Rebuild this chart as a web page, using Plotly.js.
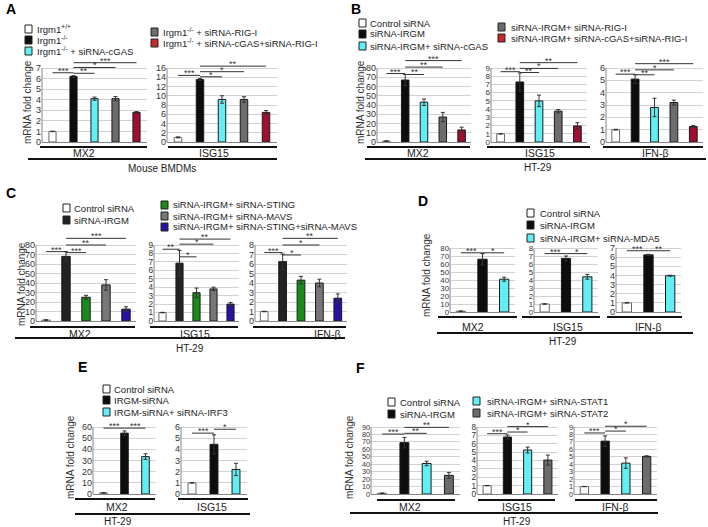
<!DOCTYPE html>
<html><head><meta charset="utf-8">
<script src="https://cdn.plot.ly/plotly-3.0.1.min.js"></script>
<style>html,body{margin:0;padding:0;background:#fff}#chart{width:708px;height:527px}</style>
</head><body><div id="chart"></div>
<script>
// ================= DATA =================
const catsA = ['Irgm1<sup>+/+</sup>','Irgm1<sup>-/-</sup>','Irgm1<sup>-/-</sup> + siRNA-cGAS','Irgm1<sup>-/-</sup> + siRNA-RIG-I','Irgm1<sup>-/-</sup> + siRNA-cGAS+siRNA-RIG-I'];
const catsB = ['Control siRNA','siRNA-IRGM','siRNA-IRGM+ siRNA-cGAS','siRNA-IRGM+ siRNA-RIG-I','siRNA-IRGM+ siRNA-cGAS+siRNA-RIG-I'];
const catsC = ['Control siRNA','siRNA-IRGM','siRNA-IRGM+ siRNA-STING','siRNA-IRGM+ siRNA-MAVS','siRNA-IRGM+ siRNA-STING+siRNA-MAVS'];
const catsD = ['Control siRNA','siRNA-IRGM','siRNA-IRGM+ siRNA-MDA5'];
const catsE = ['Control siRNA','IRGM-siRNA','IRGM-siRNA+ siRNA-IRF3'];
const catsF = ['Control siRNA','siRNA-IRGM','siRNA-IRGM+ siRNA-STAT1','siRNA-IRGM+ siRNA-STAT2'];

const genesA = ['MX2','ISG15'];
const genes3 = ['MX2','ISG15','IFN-β'];
const cellA = 'Mouse BMDMs';
const cellHT = 'HT-29';

const A_MX2 = [1, 6.2, 4.1, 4.1, 2.8];        const A_MX2_err = [0.02, 0.08, 0.15, 0.2, 0.08];
const A_ISG15 = [1, 13.5, 9.2, 9.2, 6.4];     const A_ISG15_err = [0.1, 0.2, 0.8, 0.6, 0.4];
const B_MX2 = [1, 67, 43, 27, 13];            const B_MX2_err = [0.3, 6, 3.5, 5, 3];
const B_ISG15 = [1, 7.3, 5.0, 3.75, 1.95];    const B_ISG15_err = [0.03, 1.1, 0.7, 0.2, 0.4];
const B_IFNB = [1, 5.1, 2.8, 3.2, 1.25];      const B_IFNB_err = [0.03, 0.35, 0.75, 0.2, 0.08];
const C_MX2 = [1, 68, 25, 38, 12.5];          const C_MX2_err = [0.3, 5, 2, 5.5, 2.5];
const C_ISG15 = [1, 6.85, 3.35, 3.8, 2.0];    const C_ISG15_err = [0.03, 1.5, 0.55, 0.2, 0.2];
const C_IFNB = [1, 6.25, 4.3, 4.0, 2.4];      const C_IFNB_err = [0.03, 0.8, 0.4, 0.4, 0.45];
const D_MX2 = [1, 66, 41];                    const D_MX2_err = [0.3, 7, 2.5];
const D_ISG15 = [1, 6.7, 4.4];                const D_ISG15_err = [0.03, 0.3, 0.3];
const D_IFNB = [1, 6.25, 3.97];               const D_IFNB_err = [0.02, 0.06, 0.05];
const E_MX2 = [1, 54.5, 33.5];                const E_MX2_err = [0.3, 2, 2.5];
const E_ISG15 = [1, 4.45, 2.2];               const E_ISG15_err = [0.02, 0.85, 0.55];
const F_MX2 = [1, 69, 41, 25];                const F_MX2_err = [0.3, 7, 3, 4];
const F_ISG15 = [1, 6.8, 5.25, 4.05];         const F_ISG15_err = [0.02, 0.25, 0.35, 0.6];
const F_IFNB = [1, 7.1, 4.15, 5.05];          const F_IFNB_err = [0.02, 0.7, 0.7, 0.08];

// significance: [from bar, to bar, label]
const A_MX2_sig = [[0,1,'***'],[1,2,'**'],[1,3,'*'],[1,4,'***']];
const A_ISG15_sig = [[0,1,'***'],[1,2,'*'],[1,3,'*'],[1,4,'**']];
const B_MX2_sig = [[0,1,'***'],[1,2,'**'],[1,3,'**'],[1,4,'***']];
const B_ISG15_sig = [[0,1,'***'],[1,2,'**'],[1,3,'*'],[1,4,'**']];
const B_IFNB_sig = [[0,1,'***'],[1,2,'**'],[1,3,'*'],[1,4,'***']];
const C_MX2_sig = [[0,1,'***'],[1,2,'***'],[1,3,'**'],[1,4,'***']];
const C_ISG15_sig = [[0,1,'**'],[1,2,'*'],[1,3,'*'],[1,4,'**']];
const C_IFNB_sig = [[0,1,'***'],[1,2,'*'],[1,3,'*'],[1,4,'**']];
const D_MX2_sig = [[0,1,'***'],[1,2,'*']];
const D_ISG15_sig = [[0,1,'***'],[1,2,'*']];
const D_IFNB_sig = [[0,1,'***'],[1,2,'**']];
const E_MX2_sig = [[0,1,'***'],[1,2,'***']];
const E_ISG15_sig = [[0,1,'***'],[1,2,'*']];
const F_MX2_sig = [[0,1,'***'],[1,2,'**'],[1,3,'**']];
const F_ISG15_sig = [[0,1,'***'],[1,2,'*'],[1,3,'*']];
const F_IFNB_sig = [[0,1,'***'],[1,2,'*'],[1,3,'*']];

// ================= STYLE / LAYOUT =================
const W = 708, H = 527;
const fx = p => p / W, fy = p => 1 - p / H;
const FONT = '"Liberation Sans", Arial, Helvetica, sans-serif';
const TXT = '#222';
const WHITE='#ffffff', BLACK='#0d0d0d', CYAN='#62eff3', GRAY='#6c6c6c', RED='#a00f30', GREEN='#1b8a1b', BLUE='#2a12a0';
const palA = [WHITE, BLACK, CYAN, GRAY, RED];
const palC = [WHITE, '#222222', GREEN, '#777777', BLUE];
const palD = [WHITE, BLACK, CYAN];
const palF = [WHITE, BLACK, CYAN, GRAY];
const legRed = '#c9282a';

const plots = [
 {cats:catsA, v:A_MX2,   e:A_MX2_err,   sig:A_MX2_sig,   pal:palA, T:7,  dt:1,  x0:42,  x1:147, y0:142, yT:68,  top:50,  lv:[6.55,6.5,7.05,7.5], bw:0.34},
 {cats:catsA, v:A_ISG15, e:A_ISG15_err, sig:A_ISG15_sig, pal:palA, T:16, dt:2,  x0:167, x1:277, y0:142, yT:68,  top:50,  lv:[14.4,14.1,15.2,16.4], bw:0.34},
 {cats:catsB, v:B_MX2,   e:B_MX2_err,   sig:B_MX2_sig,   pal:palA, T:80, dt:10, x0:377, x1:471, y0:142, yT:68,  top:50,  lv:[74,73,81,88], bw:0.4},
 {cats:catsB, v:B_ISG15, e:B_ISG15_err, sig:B_ISG15_sig, pal:palA, T:9,  dt:1,  x0:491, x1:587, y0:142, yT:68,  top:50,  lv:[8.55,8.45,8.95,9.65], bw:0.4},
 {cats:catsB, v:B_IFNB,  e:B_IFNB_err,  sig:B_IFNB_sig,  pal:palA, T:6,  dt:1,  x0:606, x1:703, y0:142, yT:68,  top:50,  lv:[5.5,5.45,5.85,6.35], bw:0.4},
 {cats:catsC, v:C_MX2,   e:C_MX2_err,   sig:C_MX2_sig,   pal:palC, T:80, dt:10, x0:36,  x1:136, y0:321, yT:245, top:228, lv:[73,72,80,87], bw:0.42},
 {cats:catsC, v:C_ISG15, e:C_ISG15_err, sig:C_ISG15_sig, pal:palC, T:9,  dt:1,  x0:154, x1:239, y0:321, yT:245, top:228, lv:[8.5,7.6,9.1,9.7], bw:0.42},
 {cats:catsC, v:C_IFNB,  e:C_IFNB_err,  sig:C_IFNB_sig,  pal:palC, T:8,  dt:1,  x0:255, x1:347, y0:321, yT:245, top:228, lv:[7.2,6.95,8.0,8.7], bw:0.42},
 {cats:catsD, v:D_MX2,   e:D_MX2_err,   sig:D_MX2_sig,   pal:palD, T:80, dt:10, x0:450, x1:515, y0:312, yT:248, top:240, lv:[74,74], bw:0.43},
 {cats:catsD, v:D_ISG15, e:D_ISG15_err, sig:D_ISG15_sig, pal:palD, T:8,  dt:1,  x0:534, x1:598, y0:312, yT:248, top:240, lv:[7.3,7.3], bw:0.43},
 {cats:catsD, v:D_IFNB,  e:D_IFNB_err,  sig:D_IFNB_sig,  pal:palD, T:7,  dt:1,  x0:616, x1:681, y0:312, yT:248, top:240, lv:[6.7,6.7], bw:0.43},
 {cats:catsE, v:E_MX2,   e:E_MX2_err,   sig:E_MX2_sig,   pal:palD, T:60, dt:10, x0:93,  x1:156, y0:494, yT:427, top:415, lv:[59,59], bw:0.36},
 {cats:catsE, v:E_ISG15, e:E_ISG15_err, sig:E_ISG15_sig, pal:palD, T:6,  dt:1,  x0:181, x1:247, y0:494, yT:427, top:415, lv:[5.45,5.8], bw:0.36},
 {cats:catsF, v:F_MX2,   e:F_MX2_err,   sig:F_MX2_sig,   pal:palF, T:90, dt:10, x0:371, x1:460, y0:494, yT:427, top:415, lv:[80.5,81.5,89.5], bw:0.4},
 {cats:catsF, v:F_ISG15, e:F_ISG15_err, sig:F_ISG15_sig, pal:palF, T:8,  dt:1,  x0:477, x1:558, y0:494, yT:427, top:415, lv:[7.2,7.4,8.05], bw:0.4},
 {cats:catsF, v:F_IFNB,  e:F_IFNB_err,  sig:F_IFNB_sig,  pal:palF, T:9,  dt:1,  x0:574, x1:657, y0:494, yT:427, top:415, lv:[8.2,8.45,9.1], bw:0.4}
];

// legends
const legends = [
 {labels:catsA.slice(0,3), colors:palA.slice(0,3), sx:25,  tx:35,  ys:[29,40,51]},
 {labels:catsA.slice(3),   colors:[GRAY, legRed],  sx:151, tx:161, ys:[32,43]},
 {labels:catsB.slice(0,3), colors:palA.slice(0,3), sx:359, tx:368, ys:[23,34,46]},
 {labels:catsB.slice(3),   colors:[GRAY, legRed],  sx:498, tx:509, ys:[27,38]},
 {labels:catsC.slice(0,2), colors:palC.slice(0,2), sx:63,  tx:72,  ys:[208,220]},
 {labels:catsC.slice(2),   colors:palC.slice(2),   sx:161, tx:171, ys:[205,216,227]},
 {labels:catsD,            colors:palD,            sx:527, tx:538, ys:[213,225,238]},
 {labels:catsE,            colors:palD,            sx:103, tx:112, ys:[389,400,412]},
 {labels:catsF.slice(0,2), colors:palF.slice(0,2), sx:388, tx:398, ys:[402,414]},
 {labels:catsF.slice(2),   colors:palF.slice(2),   sx:473, tx:485, ys:[401,413]}
];

// gene underline labels: [text, lineX0, lineX1, lineY, textX, textY]
const geneRows = [
 [genesA[0], 40, 147, 147, 84, 153], [genesA[1], 168, 277, 147, 214, 153],
 [genes3[0], 367, 470, 147, 418, 153], [genes3[1], 487, 590, 147, 540, 153], [genes3[2], 603, 703, 147, 655, 153],
 [genes3[0], 30, 135, 327, 80, 334], [genes3[1], 150, 238, 327, 195, 334], [genes3[2], 253, 346, 327, 327, 334],
 [genes3[0], 438, 517, 317, 473, 327], [genes3[1], 522, 600, 317, 568, 327], [genes3[2], 607, 682, 317, 648, 327],
 [genes3[0], 75, 155, 499, 117, 507], [genes3[1], 178, 248, 499, 212, 507],
 [genes3[0], 377, 455, 500, 410, 507], [genes3[1], 478, 555, 500, 517, 507], [genes3[2], 575, 657, 500, 615, 507]
];
// cell line group labels
const cellRows = [
 [cellA, 28, 277, 159, 162, 168],
 [cellHT, 365, 706, 159, 538, 167],
 [cellHT, 15, 345, 338, 190, 348],
 [cellHT, 437, 693, 333, 563, 341],
 [cellHT, 75, 250, 514, 118, 521],
 [cellHT, 350, 658, 513, 517, 521]
];
const letters = [['A',11,9],['B',356,9],['C',11,193],['D',423,201],['E',82,367],['F',360,368]];
const ytitles = [[27,102],[360,102],[21,284],[426,275],[70,457],[349,457]];

// ================= BUILD =================
const traces = [], shapes = [], annotations = [];
const layout = {width:W, height:H, margin:{l:0,r:0,t:0,b:0}, paper_bgcolor:'#fff', plot_bgcolor:'rgba(0,0,0,0)',
  showlegend:false, bargap:0, font:{family:FONT, color:TXT, size:10}};

plots.forEach((p,k)=>{
  const n = k+1, sfx = n>1 ? n : '';
  const xa = 'x'+sfx, ya = 'y'+sfx;
  const ymax = p.T*(p.y0-p.top)/(p.y0-p.yT);
  const ticks = []; for (let t=0; t<=p.T+1e-9; t+=p.dt) ticks.push(t);
  const spacing = (p.y0-p.yT)/(ticks.length-1);
  const tfs = Math.min(9, Math.max(7, spacing*0.98));
  layout['xaxis'+sfx] = {domain:[fx(p.x0),fx(p.x1)], anchor:ya, type:'category', range:[-0.5,p.cats.length-0.5],
    showticklabels:false, showgrid:false, zeroline:false, showline:true, linecolor:'#858585', linewidth:1, ticks:'', fixedrange:true};
  layout['yaxis'+sfx] = {domain:[fy(p.y0),fy(p.top)], anchor:xa, range:[0,ymax], tickvals:ticks, ticktext:ticks.map(String),
    showgrid:true, gridcolor:'#d2d2d2', gridwidth:1, zeroline:false, showline:false, ticks:'',
    tickfont:{size:tfs,color:'#333',family:FONT}, fixedrange:true};
  traces.push({type:'bar', x:p.cats, y:p.v, xaxis:xa, yaxis:ya, width:p.bw,
    marker:{color:p.pal, line:{color:p.pal.map((c,i)=> i===0 ? '#666' : '#1a1a1a'), width:1}},
    error_y:{type:'data', array:p.e, visible:true, color:'#333', thickness:1, width:2}, hoverinfo:'skip'});
  shapes.push({type:'line', xref:xa+' domain', yref:ya, x0:0, x1:0, y0:0, y1:p.T, line:{color:'#858585', width:1}});
  p.sig.forEach((s,i)=>{
    const lv = p.lv[i];
    shapes.push({type:'line', xref:xa, yref:ya, x0:s[0], x1:s[1], y0:lv, y1:lv, line:{color:'#333', width:1}});
    annotations.push({xref:xa, yref:ya, x:(s[0]+s[1])/2, y:lv, text:s[2], showarrow:false, yanchor:'bottom', yshift:-5,
      font:{size:9, color:'#333', family:FONT}});
  });
});

legends.forEach(L=>{
  L.labels.forEach((lab,i)=>{
    const y = L.ys[i];
    shapes.push({type:'rect', xref:'paper', yref:'paper', x0:fx(L.sx), x1:fx(L.sx+7), y0:fy(y+4), y1:fy(y-4),
      fillcolor:L.colors[i], line:{color:'#222', width:1}});
    annotations.push({xref:'paper', yref:'paper', x:fx(L.tx), y:fy(y), xanchor:'left', yanchor:'middle', text:lab,
      showarrow:false, font:{size:9.5, color:TXT, family:FONT}});
  });
});

geneRows.concat(cellRows).forEach((g,i)=>{
  shapes.push({type:'line', xref:'paper', yref:'paper', x0:fx(g[1]), x1:fx(g[2]), y0:fy(g[3]), y1:fy(g[3]), line:{color:'#111', width:2}});
  annotations.push({xref:'paper', yref:'paper', x:fx(g[4]), y:fy(g[5]), xanchor:'center', yanchor:'middle', text:g[0],
    showarrow:false, font:{size: i < geneRows.length ? 10.5 : 10, color:TXT, family:FONT}});
});

letters.forEach(l=>annotations.push({xref:'paper', yref:'paper', x:fx(l[1]), y:fy(l[2]), xanchor:'center', yanchor:'middle',
  text:'<b>'+l[0]+'</b>', showarrow:false, font:{size:14, color:'#000', family:FONT}}));
ytitles.forEach(t=>annotations.push({xref:'paper', yref:'paper', x:fx(t[0]), y:fy(t[1]), xanchor:'center', yanchor:'middle',
  text:'mRNA fold change', textangle:-90, showarrow:false, font:{size:10, color:'#333', family:FONT}}));

layout.shapes = shapes;
layout.annotations = annotations;
Plotly.newPlot('chart', traces, layout, {staticPlot:true, displayModeBar:false});
</script></body></html>
